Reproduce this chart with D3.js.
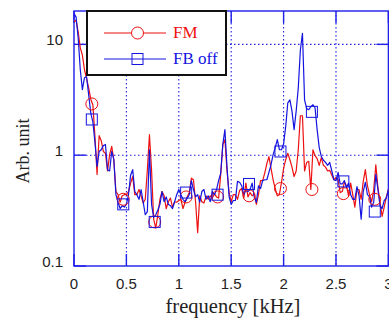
<!DOCTYPE html>
<html><head><meta charset="utf-8">
<script src="https://cdn.jsdelivr.net/npm/d3@7"></script>
<style>
html,body{margin:0;padding:0;background:#fff;}
svg{display:block;}
</style></head>
<body>
<svg id="chart" width="389" height="321"></svg>
<script>
// ---- data ----
const freqStep = 0.02; // kHz grid of the spectra
const fmValues = [16,16.5,12.9,9.3,8.0,5.9,4.9,4.05,3.2,2.85,
1.47,0.67,1.50,1.35,1.08,1.04,0.72,1.01,1.20,0.91,
0.47,0.44,0.376,0.43,0.44,0.44,0.47,0.56,0.64,0.44,
0.44,0.49,0.43,0.37,0.40,0.74,1.53,0.74,0.265,0.22,
0.29,0.40,0.47,0.43,0.33,0.38,0.41,0.34,0.38,0.376,
0.39,0.40,0.33,0.376,0.42,0.46,0.62,0.60,0.38,0.20,
0.43,0.38,0.37,0.43,0.40,0.43,0.41,0.45,0.42,0.41,
0.67,1.25,1.38,0.72,0.46,0.38,0.44,0.44,0.40,0.48,
0.50,0.41,0.56,0.42,0.46,0.43,0.45,0.36,0.44,0.59,
0.59,0.69,0.84,0.97,0.76,0.60,0.50,0.43,0.44,0.57,
0.76,0.91,1.04,0.91,0.78,0.64,0.72,1.12,2.27,2.27,
0.72,0.86,0.88,0.49,1.12,0.99,0.93,0.81,0.95,0.81,
0.78,0.72,0.73,0.66,0.60,0.63,0.60,0.46,0.47,0.57,
0.53,0.43,0.56,0.44,0.34,0.49,0.49,0.40,0.58,0.74,
0.53,0.44,0.38,0.49,0.82,0.51,0.38,0.28,0.34,0.42,0.49];
const fbValues = [19,17.6,11.4,5.9,3.9,5.0,5.1,3.5,2.4,2.0,
1.30,0.79,1.08,1.12,1.22,1.25,0.74,0.72,1.08,0.91,
0.44,0.376,0.33,0.35,0.34,0.36,0.44,0.66,0.74,0.47,
0.44,0.40,0.49,0.38,0.29,0.31,1.12,0.36,0.275,0.29,
0.32,0.36,0.47,0.38,0.42,0.36,0.35,0.33,0.38,0.44,
0.49,0.44,0.40,0.38,0.41,0.44,0.59,0.49,0.42,0.44,
0.376,0.47,0.49,0.40,0.43,0.38,0.47,0.44,0.49,0.59,
0.69,1.25,1.70,0.78,0.42,0.36,0.39,0.39,0.58,0.57,
0.53,0.44,0.48,0.47,0.49,0.56,0.42,0.376,0.53,0.50,
0.59,0.60,0.60,0.70,0.82,1.01,1.17,1.38,1.12,1.12,
1.27,1.81,2.97,3.16,2.5,1.70,2.5,4.05,8.9,12.6,
3.16,2.63,2.57,2.74,2.85,2.68,1.70,1.17,0.97,0.90,
0.86,0.81,0.86,0.72,0.60,0.59,0.70,0.55,0.55,0.59,
0.51,0.56,0.44,0.40,0.40,0.52,0.43,0.265,0.47,0.57,
0.44,0.42,0.34,0.376,0.67,0.49,0.35,0.33,0.39,0.41,0.49];
const markerFreqs = [0.17,0.47,0.77,1.07,1.37,1.67,1.97,2.27,2.57,2.87];
const fmMarkers = [2.9,0.40,0.25,0.42,0.42,0.43,0.50,0.49,0.45,0.40];
const fbMarkers = [2.1,0.36,0.25,0.46,0.44,0.55,1.08,2.46,0.58,0.31];
const xTicks = [0,0.5,1,1.5,2,2.5,3];
const xTickLabels = ["0","0.5","1","1.5","2","2.5","3"];
const yTicks = [0.1,1,10];
const yTickLabels = ["0.1","1","10"];
const seriesNames = ["FM","FB off"];

// ---- layout ----
const svg = d3.select("#chart");
const L = 74, R = 388.4, T = 11, B = 266;
const x = d3.scaleLinear().domain([0,3]).range([L,R]);
const y = d3.scaleLog().domain([0.1,20]).range([B,T]);
const axisBlue = "#1f1fe8";
const red = "#ee1111", blue = "#1414e0";

svg.append("defs").append("clipPath").attr("id","clip")
  .append("rect").attr("x",L).attr("y",T).attr("width",R-L).attr("height",B-T);

// grid (dotted)
const grid = svg.append("g").attr("stroke",axisBlue).attr("stroke-width",1.1)
  .attr("stroke-dasharray","1.5,2.5").attr("fill","none");
xTicks.filter(t=>t>0 && t<3).forEach(t=>{
  grid.append("line").attr("x1",x(t)).attr("x2",x(t)).attr("y1",T).attr("y2",B);
});
yTicks.filter(t=>t>0.1).forEach(t=>{
  grid.append("line").attr("x1",L).attr("x2",R).attr("y1",y(t)).attr("y2",y(t));
});

// axes box with ticks
const tickLen = 12;
const axG = svg.append("g").attr("stroke",axisBlue).attr("stroke-width",1.4).attr("fill","none");
axG.append("rect").attr("x",L).attr("y",T).attr("width",R-L).attr("height",B-T);
xTicks.forEach(t=>{
  axG.append("line").attr("x1",x(t)).attr("x2",x(t)).attr("y1",B).attr("y2",B-tickLen);
  axG.append("line").attr("x1",x(t)).attr("x2",x(t)).attr("y1",T).attr("y2",T+tickLen);
});
yTicks.forEach(t=>{
  axG.append("line").attr("x1",L).attr("x2",L+tickLen).attr("y1",y(t)).attr("y2",y(t));
  axG.append("line").attr("x1",R).attr("x2",R-tickLen).attr("y1",y(t)).attr("y2",y(t));
});

// tick labels
const tl = svg.append("g").attr("font-family","'Liberation Sans',Arial,sans-serif")
  .attr("font-size",15).attr("fill","#222");
xTicks.forEach((t,i)=>{
  tl.append("text").attr("x",x(t)).attr("y",289).attr("text-anchor","middle").text(xTickLabels[i]);
});
yTicks.forEach((t,i)=>{
  tl.append("text").attr("x",63).attr("y",y(t)+1).attr("text-anchor","end").text(yTickLabels[i]);
});

// axis titles
svg.append("text").attr("x",233).attr("y",313).attr("text-anchor","middle")
  .attr("font-family","'Liberation Serif','Times New Roman',serif").attr("font-size",20.5)
  .attr("fill","#222").text("frequency [kHz]");
svg.append("text").attr("transform","translate(29,151) rotate(-90)").attr("text-anchor","middle")
  .attr("font-family","'Liberation Serif','Times New Roman',serif").attr("font-size",18)
  .attr("fill","#222").text("Arb. unit");

// series
const line = d3.line().x((d,i)=>x(i*freqStep)).y(d=>y(d));
const plot = svg.append("g").attr("clip-path","url(#clip)");
plot.append("path").datum(fmValues).attr("d",line).attr("fill","none")
  .attr("stroke",red).attr("stroke-width",1.2).attr("stroke-linejoin","round");
plot.append("path").datum(fbValues).attr("d",line).attr("fill","none")
  .attr("stroke",blue).attr("stroke-width",1.2).attr("stroke-linejoin","round");

// markers
plot.selectAll("circle.fm").data(markerFreqs).enter().append("circle")
  .attr("cx",d=>x(d)).attr("cy",(d,i)=>y(fmMarkers[i])).attr("r",6)
  .attr("fill","none").attr("stroke",red).attr("stroke-width",1);
plot.selectAll("rect.fb").data(markerFreqs).enter().append("rect")
  .attr("x",d=>x(d)-5.5).attr("y",(d,i)=>y(fbMarkers[i])-5.5).attr("width",11).attr("height",11)
  .attr("fill","none").attr("stroke",blue).attr("stroke-width",1);

// legend
const lg = svg.append("g");
lg.append("rect").attr("x",87).attr("y",11).attr("width",139).attr("height",64)
  .attr("fill","#fff").attr("stroke","#111").attr("stroke-width",2);
const rows = [{y:33,c:red,name:seriesNames[0],m:"circle"},{y:59,c:blue,name:seriesNames[1],m:"square"}];
rows.forEach(r=>{
  lg.append("line").attr("x1",104).attr("x2",166).attr("y1",r.y).attr("y2",r.y)
    .attr("stroke",r.c).attr("stroke-width",1.1);
  if(r.m==="circle"){
    lg.append("circle").attr("cx",137.5).attr("cy",r.y).attr("r",6)
      .attr("fill","#fff").attr("stroke",r.c).attr("stroke-width",1);
  } else {
    lg.append("rect").attr("x",132).attr("y",r.y-5.5).attr("width",11).attr("height",11)
      .attr("fill","none").attr("stroke",r.c).attr("stroke-width",1);
  }
  lg.append("text").attr("x",173).attr("y",r.y+5).attr("fill",r.c)
    .attr("font-family","'Liberation Serif','Times New Roman',serif").attr("font-size",17)
    .text(r.name);
});
</script>
</body></html>
